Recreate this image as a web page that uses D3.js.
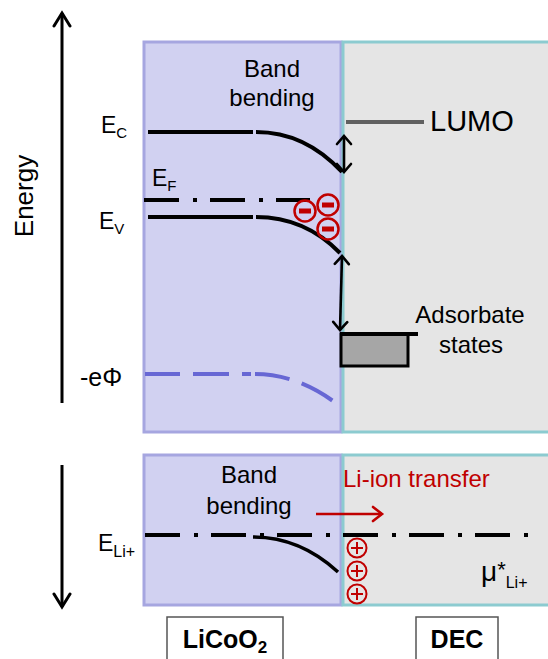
<!DOCTYPE html>
<html><head><meta charset="utf-8">
<script src="https://cdn.jsdelivr.net/npm/d3@7/dist/d3.min.js"></script>
<style>
html,body{margin:0;padding:0;background:#fff;}
svg{display:block;font-family:"Liberation Sans",Arial,sans-serif;}
</style></head>
<body>
<svg id="c" width="548" height="659"></svg>
<script>
// ---------- data (diagram units: x = distance from interface, y = energy) ----------
const materials = ["LiCoO2", "DEC"];
const materialExtent = [[-19.8, 0], [0, 21]];
const materialFill = ["#d1d1f1", "#e5e5e5"];
const materialStroke = ["#a6a6e0", "#8ccbd0"];

// top panel bands
const bandNames = ["C", "V"];
const bandFlatStart = [-19.4, -19.4];
const bandFlatEnd = [-8.9, -8.9];
const bandCurveStart = [-8.6, -8.6];
const bandEndX = [0.0, -0.2];
const bandEnergy = [30.0, 21.5];
const bandEndEnergy = [26.0, 17.9];

const fermiEnergy = 23.2;
const fermiRange = [-19.8, -3.2];
const phiEnergy = 5.8;
const phiEndEnergy = 3.1;
const phiRange = [-19.7, -8.7, -0.9];
const lumoEnergy = 31.0;
const lumoRange = [0.4, 8.2];
const adsorbateTop = 9.8;
const adsorbateBottom = 6.6;
const adsorbateRange = [-0.1, 6.6, 7.6];
const gapArrow1 = [[0.2, 29.6], [0.2, 26.0]];
const gapArrow2 = [[0.0, 17.6], [-0.2, 10.2]];
const minusCharges = [[-3.7, 22.1], [-1.4, 22.7], [-1.4, 20.3]];

// bottom panel
const liEnergy = 7.0;
const liRange = [-19.7, 18.8];
const liBendStart = [-8.9, 6.8];
const liBendEnd = [-0.4, 3.3];
const plusCharges = [[1.5, 5.7], [1.5, 3.4], [1.5, 1.1]];
const transferArrow = [[-2.6, 9.1], [4.0, 9.1]];

// ---------- scales ----------
const x = d3.scaleLinear().domain([-19.8, 0]).range([144, 342]);
const yTop = d3.scaleLinear().domain([0, 39]).range([432, 42]);
const yBot = d3.scaleLinear().domain([0, 15]).range([605, 455]);

const svg = d3.select("#c");
const defs = svg.append("defs");
function chevron(id, len, half, color, sw) {
  const m = defs.append("marker").attr("id", id)
    .attr("markerUnits", "userSpaceOnUse")
    .attr("viewBox", `0 0 ${len + 4} ${2 * half + 4}`)
    .attr("markerWidth", len + 4).attr("markerHeight", 2 * half + 4)
    .attr("refX", len + 1).attr("refY", half + 2)
    .attr("orient", "auto-start-reverse");
  m.append("path").attr("d", `M2,2 L${len + 1},${half + 2} L2,${2 * half + 2}`)
    .attr("fill", "none").attr("stroke", color).attr("stroke-width", sw)
    .attr("stroke-linecap", "round").attr("stroke-linejoin", "miter");
}
chevron("ahBig", 14, 8, "#000", 3);
chevron("ahSm", 9, 7, "#000", 2.6);
chevron("ahRed", 10, 7, "#c00000", 2.6);

// ---------- panels ----------
const panels = [yTop, yBot];
const panelTop = [39, 15];
panels.forEach((ys, p) => {
  materials.forEach((m, i) => {
    svg.append("rect")
      .attr("x", x(materialExtent[i][0]) + (i === 1 ? 1 : 0))
      .attr("y", ys(panelTop[p]))
      .attr("width", x(materialExtent[i][1]) - x(materialExtent[i][0]) + (i === 1 ? 10 : -1))
      .attr("height", ys(0) - ys(panelTop[p]))
      .attr("fill", materialFill[i]).attr("stroke", materialStroke[i]).attr("stroke-width", 3);
  });
});

// ---------- energy axes ----------
svg.append("line").attr("x1", 62).attr("x2", 62).attr("y1", yTop(2.9)).attr("y2", yTop(41.9))
  .attr("stroke", "#000").attr("stroke-width", 3).attr("marker-end", "url(#ahBig)");
svg.append("line").attr("x1", 62).attr("x2", 62).attr("y1", yBot(14)).attr("y2", yBot(-0.2))
  .attr("stroke", "#000").attr("stroke-width", 3).attr("marker-end", "url(#ahBig)");
svg.append("text").attr("transform", `translate(33,${yTop(23.6)}) rotate(-90)`)
  .attr("text-anchor", "middle").attr("font-size", 26).text("Energy");

// ---------- bands ----------
bandNames.forEach((n, i) => {
  const p = d3.path();
  p.moveTo(x(bandFlatStart[i]), yTop(bandEnergy[i]));
  p.lineTo(x(bandFlatEnd[i]), yTop(bandEnergy[i]));
  p.moveTo(x(bandCurveStart[i]), yTop(bandEnergy[i]));
  p.quadraticCurveTo(x(-3.7), yTop(bandEnergy[i]), x(bandEndX[i]), yTop(bandEndEnergy[i]));
  svg.append("path").attr("d", p.toString()).attr("fill", "none")
    .attr("stroke", "#000").attr("stroke-width", 4);
  const t = svg.append("text").attr("x", i === 0 ? 101 : 99).attr("y", yTop(bandEnergy[i]) + (i === 0 ? 1 : 12))
    .attr("font-size", 23);
  t.append("tspan").text("E");
  t.append("tspan").attr("font-size", 15).attr("dy", 5).text(n);
});

// Fermi level
svg.append("line").attr("x1", x(fermiRange[0])).attr("x2", x(fermiRange[1]))
  .attr("y1", yTop(fermiEnergy)).attr("y2", yTop(fermiEnergy))
  .attr("stroke", "#000").attr("stroke-width", 4).attr("stroke-dasharray", "35,14,4,13");
{
  const t = svg.append("text").attr("x", 152).attr("y", 186).attr("font-size", 23);
  t.append("tspan").text("E");
  t.append("tspan").attr("font-size", 15).attr("dy", 5).text("F");
}

// -eΦ
{
  const p = d3.path();
  p.moveTo(x(phiRange[0]), yTop(phiEnergy));
  p.lineTo(x(phiRange[1]), yTop(phiEnergy));
  p.quadraticCurveTo(x(-4.7), yTop(phiEnergy), x(phiRange[2]), yTop(phiEndEnergy));
  svg.append("path").attr("d", p.toString()).attr("fill", "none")
    .attr("stroke", "#6767d4").attr("stroke-width", 4).attr("stroke-dasharray", "35,13,36,13,9,4,35,13");
  svg.append("text").attr("x", 80).attr("y", 386).attr("font-size", 25).text("-eΦ");
}

// LUMO
svg.append("line").attr("x1", x(lumoRange[0])).attr("x2", x(lumoRange[1]))
  .attr("y1", yTop(lumoEnergy)).attr("y2", yTop(lumoEnergy))
  .attr("stroke", "#606060").attr("stroke-width", 4);
svg.append("text").attr("x", 430).attr("y", 131).attr("font-size", 29).text("LUMO");

// gap arrows
[gapArrow1, gapArrow2].forEach(a => {
  svg.append("line").attr("x1", x(a[0][0])).attr("y1", yTop(a[0][1]))
    .attr("x2", x(a[1][0])).attr("y2", yTop(a[1][1]))
    .attr("stroke", "#000").attr("stroke-width", 2.6)
    .attr("marker-start", "url(#ahSm)").attr("marker-end", "url(#ahSm)");
});

// adsorbate states
svg.append("rect").attr("x", x(adsorbateRange[0])).attr("y", yTop(adsorbateTop))
  .attr("width", x(adsorbateRange[1]) - x(adsorbateRange[0]))
  .attr("height", yTop(adsorbateBottom) - yTop(adsorbateTop))
  .attr("fill", "#a6a6a6").attr("stroke", "#000").attr("stroke-width", 3);
svg.append("line").attr("x1", x(adsorbateRange[0]) - 1).attr("x2", x(adsorbateRange[2]))
  .attr("y1", yTop(adsorbateTop)).attr("y2", yTop(adsorbateTop))
  .attr("stroke", "#000").attr("stroke-width", 4);
svg.append("text").attr("x", 470).attr("y", 323).attr("font-size", 24).attr("text-anchor", "middle").text("Adsorbate");
svg.append("text").attr("x", 471).attr("y", 353).attr("font-size", 24).attr("text-anchor", "middle").text("states");

// band bending labels
svg.append("text").attr("x", 272).attr("y", 77).attr("font-size", 24).attr("text-anchor", "middle").text("Band");
svg.append("text").attr("x", 272).attr("y", 106).attr("font-size", 24).attr("text-anchor", "middle").text("bending");
svg.append("text").attr("x", 249).attr("y", 483).attr("font-size", 24).attr("text-anchor", "middle").text("Band");
svg.append("text").attr("x", 249).attr("y", 514).attr("font-size", 24).attr("text-anchor", "middle").text("bending");

// minus charges
minusCharges.forEach(c => {
  const g = svg.append("g").attr("transform", `translate(${x(c[0])},${yTop(c[1])})`);
  g.append("circle").attr("r", 10.5).attr("fill", "none").attr("stroke", "#c00000").attr("stroke-width", 2.5);
  g.append("rect").attr("x", -6).attr("y", -2.5).attr("width", 12).attr("height", 5).attr("fill", "#c00000");
});

// ---------- bottom panel ----------
svg.append("line").attr("x1", x(liRange[0])).attr("x2", x(liRange[1]))
  .attr("y1", yBot(liEnergy)).attr("y2", yBot(liEnergy))
  .attr("stroke", "#000").attr("stroke-width", 4).attr("stroke-dasharray", "35,14,4,13");
{
  const p = d3.path();
  p.moveTo(x(liBendStart[0]), yBot(liBendStart[1]));
  p.quadraticCurveTo(x(-4.2), yBot(liBendStart[1]), x(liBendEnd[0]), yBot(liBendEnd[1]));
  svg.append("path").attr("d", p.toString()).attr("fill", "none").attr("stroke", "#000").attr("stroke-width", 3.5);
  const t = svg.append("text").attr("x", 98).attr("y", 551).attr("font-size", 23);
  t.append("tspan").text("E");
  t.append("tspan").attr("font-size", 16).attr("dy", 6).text("Li+");
  const m = svg.append("text").attr("x", 481).attr("y", 581).attr("font-size", 28);
  m.append("tspan").text("μ");
  m.append("tspan").attr("font-size", 22).attr("dy", -4).text("*");
  m.append("tspan").attr("font-size", 16).attr("dy", 11).text("Li+");
}
plusCharges.forEach(c => {
  const g = svg.append("g").attr("transform", `translate(${x(c[0])},${yBot(c[1])})`);
  g.append("circle").attr("r", 9.5).attr("fill", "none").attr("stroke", "#c00000").attr("stroke-width", 2);
  g.append("path").attr("d", "M-6,0 H6 M0,-6 V6").attr("stroke", "#c00000").attr("stroke-width", 2);
});
svg.append("line").attr("x1", x(transferArrow[0][0])).attr("y1", yBot(transferArrow[0][1]))
  .attr("x2", x(transferArrow[1][0])).attr("y2", yBot(transferArrow[1][1]))
  .attr("stroke", "#c00000").attr("stroke-width", 2.6).attr("marker-end", "url(#ahRed)");
svg.append("text").attr("x", 343).attr("y", 487).attr("font-size", 24).attr("fill", "#c00000").text("Li-ion transfer");

// ---------- material labels ----------
const labelBoxes = [[167, 283], [416, 498]];
materials.forEach((m, i) => {
  svg.append("rect").attr("x", labelBoxes[i][0]).attr("y", 617)
    .attr("width", labelBoxes[i][1] - labelBoxes[i][0]).attr("height", 60)
    .attr("fill", "#fff").attr("stroke", "#555").attr("stroke-width", 1.5);
  const t = svg.append("text").attr("x", (labelBoxes[i][0] + labelBoxes[i][1]) / 2).attr("y", 648)
    .attr("font-size", 25).attr("font-weight", "bold").attr("text-anchor", "middle");
  if (m === "LiCoO2") {
    t.append("tspan").text("LiCoO");
    t.append("tspan").attr("font-size", 17).attr("dy", 5).text("2");
  } else {
    t.text(m);
  }
});
</script>
</body></html>
